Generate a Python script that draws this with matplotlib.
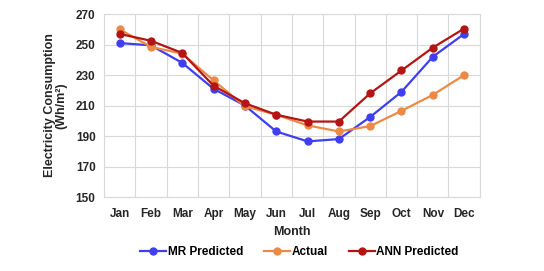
import matplotlib.pyplot as plt
import numpy as np

plt.rcParams['font.family'] = ['Liberation Sans', 'DejaVu Sans']

months = ['Jan', 'Feb', 'Mar', 'Apr', 'May', 'Jun', 'Jul', 'Aug', 'Sep', 'Oct', 'Nov', 'Dec']
mr_predicted = [251, 249.5, 238, 221, 210, 193, 186.5, 188, 202.5, 219, 242, 257]
actual = [260, 248.5, 244, 226.5, 209.5, 204, 197, 193, 196.5, 206.5, 217, 230]
ann_predicted = [257, 252.5, 244.5, 223, 211.5, 204, 199.5, 199.5, 218, 233, 248, 260.5]
yticks = [150, 170, 190, 210, 230, 250, 270]

fig = plt.figure(figsize=(5.44, 2.71), dpi=100)
ax = fig.add_axes([0.191, 0.273, 0.691, 0.675])

x = np.arange(len(months))
ax.plot(x, mr_predicted, color='#3f3ff0', marker='o', markersize=5, linewidth=1.6, label='MR Predicted')
ax.plot(x, actual, color='#ec8a45', marker='o', markersize=5, linewidth=1.6, label='Actual')
ax.plot(x, ann_predicted, color='#b41414', marker='o', markersize=5, linewidth=1.6, label='ANN Predicted')

ax.set_xlim(-0.5, len(months) - 0.5)
ax.set_ylim(150, 270)
ax.set_yticks(yticks)
ax.set_xticks(x)
ax.set_xticklabels(months)
ax.set_xticks(np.arange(-0.5, len(months), 1), minor=True)
ax.grid(True, which='minor', axis='x', color='#d9d9d9', linewidth=0.8)
ax.grid(True, which='major', axis='y', color='#d9d9d9', linewidth=0.8)
ax.set_axisbelow(True)
ax.tick_params(which='both', length=0, labelsize=8.5)
ax.tick_params(axis='x', pad=8)
ax.tick_params(axis='y', pad=6)
for lbl in ax.get_xticklabels() + ax.get_yticklabels():
    lbl.set_fontweight('bold')
    lbl.set_color('#262626')
for s in ax.spines.values():
    s.set_color('#d9d9d9')
    s.set_linewidth(0.8)

ax.set_xlabel('Month', fontsize=9, fontweight='bold', color='#262626', labelpad=4)
ax.set_ylabel('Electricity Consumption\n(Wh/m²)', fontsize=9, fontweight='bold', color='#262626', labelpad=6, linespacing=0.95)

ax.legend(loc='upper center', bbox_to_anchor=(0.52, -0.21), ncol=3, frameon=False,
          prop={'weight': 'bold', 'size': 8.5}, handlelength=2.2, handletextpad=0.1, columnspacing=1.8)

fig.savefig('out.png', dpi=100)
